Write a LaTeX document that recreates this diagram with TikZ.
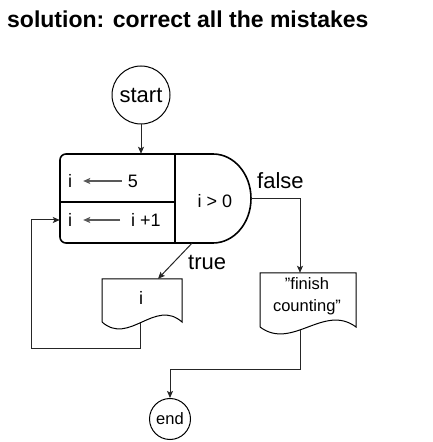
\documentclass[tikz,border=0pt]{standalone}
\usepackage{fontspec}
\setmainfont{Liberation Sans}
\usetikzlibrary{arrows.meta}
\tikzset{
 fs/.style={font=\fontsize{#1}{#1}\selectfont},
 txt/.style={inner sep=0pt, fs=18},
 conn/.style={line width=1pt, draw=black!85},
 arr/.style={conn, -{Stealth[length=7pt,width=6pt,inset=1.5pt]}},
 inarr/.style={line width=1.3pt, draw=black!65, -{Stealth[length=7pt,width=6pt,inset=1.5pt]}},
 term/.style={circle, draw, line width=1pt, inner sep=0pt},
 holder/.style={inner sep=0pt, draw=none},
 docline/.style={line width=1pt},
 lbl/.style={anchor=base west, inner sep=0pt, fs=22},
}
\begin{document}
\begin{tikzpicture}[x=1pt,y=1pt]
\useasboundingbox (0,0) rectangle (432,442);
\node[anchor=base west, inner sep=0pt, font=\fontsize{23}{23}\selectfont\bfseries] (title) at (7,414) {solution: correct all the mistakes};

% terminals
\node[term, minimum size=58pt, fs=22] (start) at (141,347) {start};
\node[term, minimum size=41pt, fs=16.5] (endc) at (170,23) {end};

% combined block
\node[holder, minimum width=191pt, minimum height=89pt] (blk) at (155.5,243.5) {};
\draw[line width=1.6pt] (213,288) -- (66,288) arc[start angle=90, end angle=180, radius=6pt]
  -- (60,205) arc[start angle=180, end angle=270, radius=6pt]
  -- (213,199) arc[start angle=-90, end angle=90, x radius=38pt, y radius=44.5pt] -- cycle;
\draw[line width=1.3pt] (175,288) -- (175,199);
\draw[line width=1.2pt] (60,240) -- (175,240);
\node[txt] (ia) at (70,261) {i};
\node[txt] (five) at (133,261) {5};
\draw[inarr, shorten <=6pt, shorten >=11pt] (five.west) -- (ia.east);
\node[txt] (ib) at (70,222) {i};
\node[txt] (inc) at (146,222) {i +1};
\draw[inarr, shorten <=11pt, shorten >=11pt] (inc.west) -- (ib.east);
\node[txt] (cond) at (215,241) {i > 0};

% document i
\node[holder, minimum width=80pt, minimum height=43pt] (idoc) at (142,141.5) {};
\draw[docline] (102,120) -- (102,163) -- (182,163) -- (182,120) .. controls (155,144) and (129,96) .. (102,120);
\node[txt] (itxt) at (141,144) {i};

% document finish counting
\node[holder, minimum width=96pt, minimum height=54pt] (fin) at (308,142) {};
\draw[docline] (260,115) -- (260,169) -- (356,169) -- (356,115) .. controls (324,139) and (292,91) .. (260,115);
\node[inner sep=0pt, align=center, font=\fontsize{16.5}{22}\selectfont] (ftxt) at (307,145.5) {"finish\\counting"};

% connectors
\draw[arr] (start.south) -- (start.south |- blk.north);
\coordinate (fc) at (300,243.5);
\draw[arr] (blk.east) -- (fc) -- (fc |- fin.north);
\draw[arr] ([xshift=36.5pt]blk.south) -- ([xshift=16pt]idoc.north);
\coordinate (loopc) at (31,93);
\draw[arr, shorten <=1pt] ([xshift=-2pt]idoc.south) -- ([xshift=-2pt]idoc.south |- loopc) -- (loopc) |- (blk.west |- ib);
\coordinate (jn) at (170,72);
\draw[arr, shorten <=3pt] (fc |- fin.south) -- (fc |- jn) -- (jn) -- (endc.north);

% labels
\node[lbl] (flab) at (257,253) {false};
\node[lbl] (tlab) at (188,172) {true};
\end{tikzpicture}
\end{document}
